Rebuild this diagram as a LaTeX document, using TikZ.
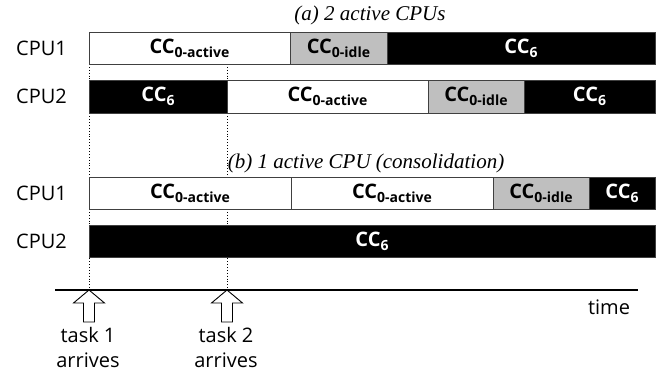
\documentclass[tikz,border=0pt]{standalone}
\usepackage{fontspec}
\setmainfont{Open Sans}
\newfontfamily\capfont{Liberation Serif}
\usetikzlibrary{positioning}
\definecolor{txt}{HTML}{000000}
\definecolor{idlegray}{HTML}{BFBFBF}
\definecolor{edge}{HTML}{404040}
\newcommand{\cc}[1]{\textbf{CC}\raisebox{-0.35ex}{\fontsize{14}{14}\selectfont\bfseries #1}}

\begin{document}
\begin{tikzpicture}[
  x=1pt, y=-1pt,
  seg/.style={draw=edge, line width=0.8pt, minimum height=32pt, inner sep=0pt, outer sep=0pt, font=\fontsize{20}{24}\selectfont},
  active/.style={seg, fill=white},
  idle/.style={seg, fill=idlegray},
  deep/.style={seg, fill=black, text=white},
  cpu/.style={inner sep=0pt, font=\fontsize{20}{24}\selectfont},
  title/.style={font=\capfont\itshape\fontsize{21}{24}\selectfont},
  guide/.style={dotted, line width=0.9pt},
  axis/.style={line width=2.6pt},
  blockarr/.style={draw=black, fill=white, line width=0.9pt},
]
\useasboundingbox (0,0) rectangle (667,371);

% guide lines for the task arrivals
\coordinate (g1top) at (89,64);
\coordinate (g1bot) at (89,290);
\coordinate (g2top) at (227,64);
\coordinate (g2bot) at (227,290);
\draw[guide] (g1top) -- (g1bot);
\draw[guide] (g2top) -- (g2bot);

% (a) 2 active CPUs
\node[title] (ttla) at (370,15) {(a) 2 active CPUs};

\node[active, minimum width=201pt, anchor=west] (a1s1) at (89,48) {\cc{0-active}};
\node[idle, minimum width=97pt, right=0pt of a1s1] (a1s2) {\cc{0-idle}};
\node[deep, minimum width=268pt, right=0pt of a1s2] (a1s3) {\cc{6}};
\node[cpu, left=22pt of a1s1] (cpua1) {CPU1};

\node[deep, minimum width=138pt, minimum height=33pt, anchor=west] (a2s1) at (89,96.5) {\cc{6}};
\node[active, minimum width=201pt, minimum height=33pt, right=0pt of a2s1] (a2s2) {\cc{0-active}};
\node[idle, minimum width=96pt, minimum height=33pt, right=0pt of a2s2] (a2s3) {\cc{0-idle}};
\node[deep, minimum width=131pt, minimum height=33pt, right=0pt of a2s3] (a2s4) {\cc{6}};
\node[cpu, left=22pt of a2s1] (cpua2) {CPU2};

% (b) 1 active CPU
\node[title] (ttlb) at (366,163) {(b) 1 active CPU (consolidation)};

\node[active, minimum width=202pt, anchor=west] (b1s1) at (89,193) {\cc{0-active}};
\node[active, minimum width=202pt, right=0pt of b1s1] (b1s2) {\cc{0-active}};
\node[idle, minimum width=96pt, right=0pt of b1s2] (b1s3) {\cc{0-idle}};
\node[deep, minimum width=66pt, right=0pt of b1s3] (b1s4) {\cc{6}};
\node[cpu, left=22pt of b1s1] (cpub1) {CPU1};

\node[deep, minimum width=566pt, anchor=west] (b2s1) at (89,241) {\cc{6}};
\node[cpu, left=22pt of b2s1] (cpub2) {CPU2};

% time axis
\coordinate (ax0) at (55,290);
\coordinate (ax1) at (638,290);
\draw[axis] (ax0) -- (ax1);
\node[cpu] (time) at (609,307) {time};

% arrivals
\foreach \x/\n in {89/1,227/2} {
  \draw[blockarr] (\x,290) -- ++(15.5,13) -- ++(-10,0) -- ++(0,19) -- ++(-11,0)
    -- ++(0,-19) -- ++(-10,0) -- cycle;
  \node[cpu, align=center, font=\fontsize{20}{25}\selectfont, anchor=north] (task\n) at (\x-1,327) {task \n\\arrives};
}

\end{tikzpicture}
\end{document}
